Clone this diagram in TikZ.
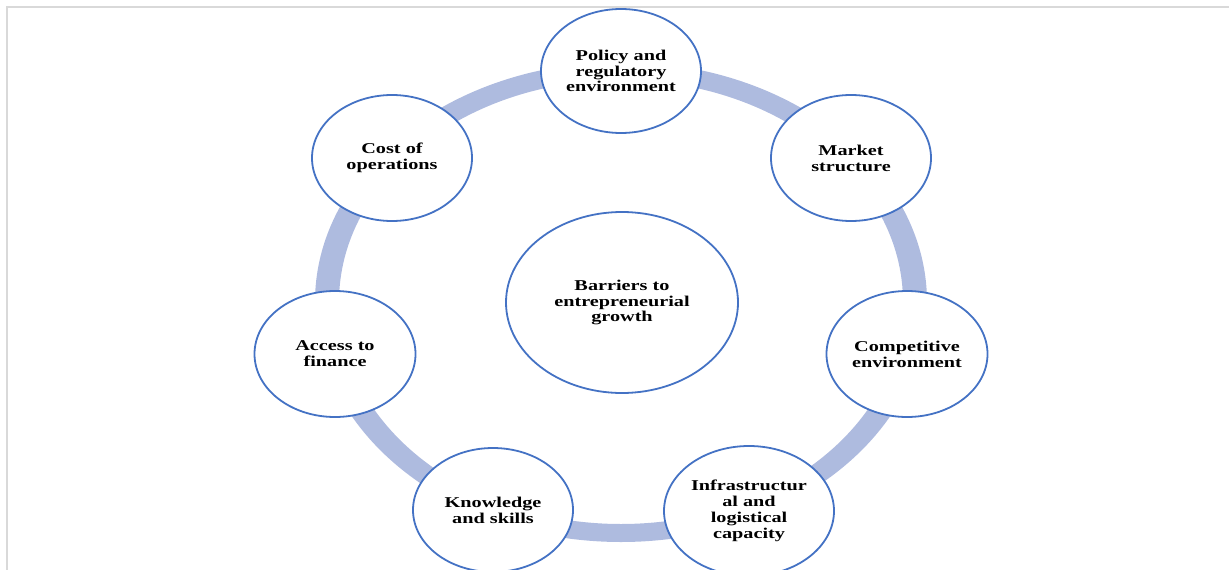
\documentclass[tikz,border=0pt]{standalone}
\usepackage{fontspec}
\setmainfont{Liberation Serif}[FakeStretch=1.35]
\usetikzlibrary{shapes.geometric}
\definecolor{ringblue}{HTML}{AEBBDF}
\definecolor{edgeblue}{HTML}{4472C4}
\definecolor{framegray}{HTML}{D9D9D9}
\tikzset{
  factor/.style={ellipse, draw=edgeblue, line width=1.8pt, fill=white,
    inner sep=0pt, align=center, text=black,
    font=\fontsize{15}{15.8}\selectfont\bfseries},
}
\begin{document}
\begin{tikzpicture}[x=1pt,y=-1pt]
  \useasboundingbox (0,0) rectangle (1229,570);
  % page frame
  \draw[framegray, line width=2pt] (6.5,570) -- (6.5,6.5) -- (1229,6.5);
  % cycle ring behind the factors
  \fill[ringblue, even odd rule]
    (621,302) ellipse [x radius=306, y radius=240]
    (621,302) ellipse [x radius=282, y radius=222];
  % core issue
  \node[factor, minimum width=232, minimum height=181] (core) at (622,302.5)
    {Barriers to\\entrepreneurial\\growth};
  % surrounding factors
  \node[factor, minimum width=160, minimum height=124] (policy) at (621,71)
    {Policy and\\regulatory\\environment};
  \node[factor, minimum width=160, minimum height=126] (market) at (851,158)
    {Market\\structure};
  \node[factor, minimum width=161, minimum height=126] (compet) at (907,354)
    {Competitive\\environment};
  \node[factor, minimum width=170, minimum height=130] (infra) at (749,511)
    {Infrastructur\\al and\\logistical\\capacity};
  \node[factor, minimum width=160, minimum height=124] (knowl) at (493,510)
    {Knowledge\\and skills};
  \node[factor, minimum width=161, minimum height=126] (finance) at (335,354)
    {Access to\\finance};
  \node[factor, minimum width=160, minimum height=126] (costs) at (392,158)
    {Cost of\\operations};
\end{tikzpicture}
\end{document}
